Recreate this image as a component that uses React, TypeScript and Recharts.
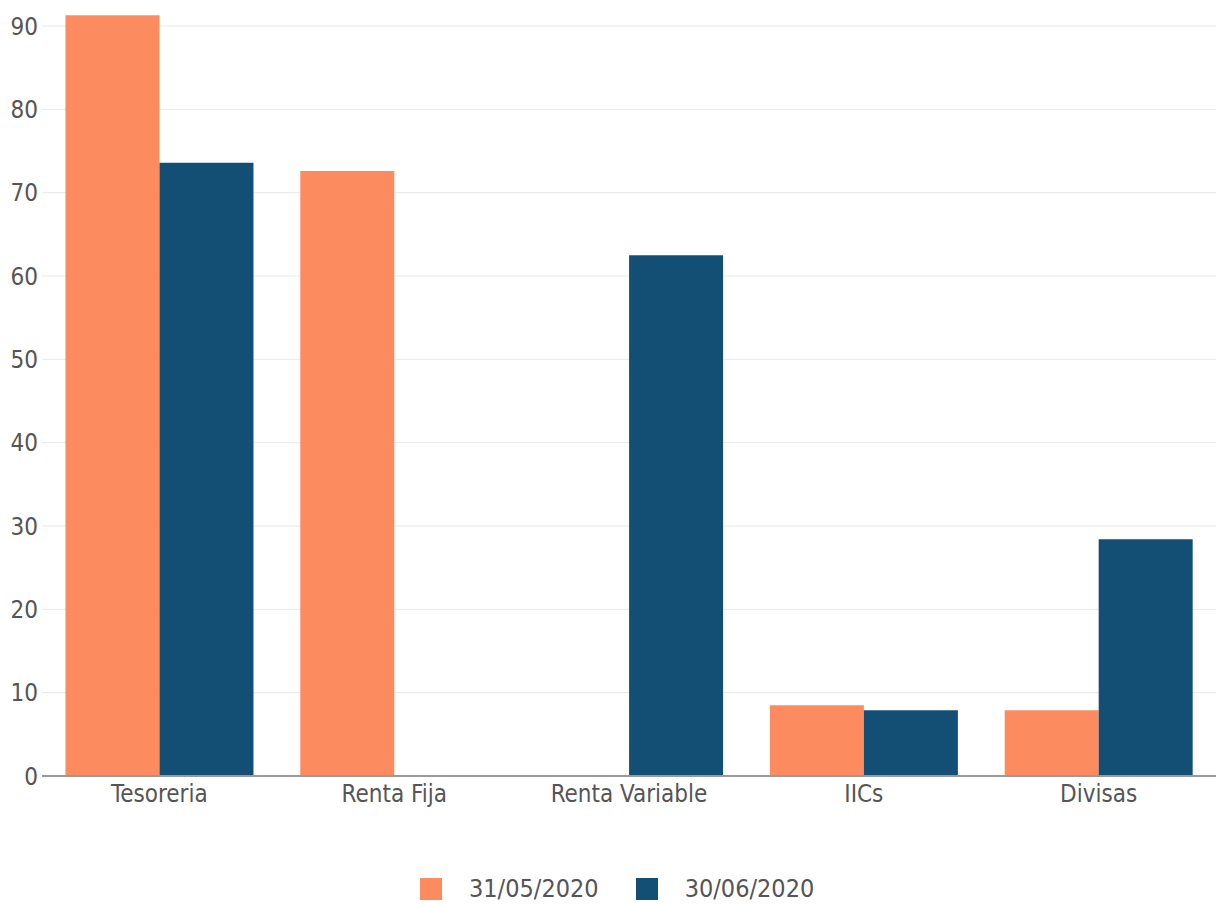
import { BarChart, Bar, XAxis, YAxis, CartesianGrid, Legend } from 'recharts'

const categories = ['Tesoreria', 'Renta Fija', 'Renta Variable', 'IICs', 'Divisas']
const may2020 = [91.3, 72.6, 0, 8.5, 7.9]
const jun2020 = [73.6, 0, 62.5, 7.9, 28.4]
const yTicks = [0, 10, 20, 30, 40, 50, 60, 70, 80, 90]
const yMax = 93

const seriesNames = ['31/05/2020', '30/06/2020']
const colors = ['#fc8b60', '#134f74']

const data = categories.map((name, i) => ({
  name,
  may: may2020[i],
  jun: jun2020[i],
}))

const font = '"DejaVu Sans Condensed", "DejaVu Sans", sans-serif'

function LegendContent() {
  return (
    <div style={{ display: 'flex', alignItems: 'center', marginTop: 52, marginLeft: 420, fontFamily: font, fontSize: 25, color: '#555' }}>
      {seriesNames.map((s, i) => (
        <div key={s} style={{ display: 'flex', alignItems: 'center', marginRight: i === 0 ? 37 : 0 }}>
          <span style={{ width: 22, height: 22, background: colors[i], display: 'inline-block', marginRight: 27 }} />
          <span style={{ lineHeight: '22px' }}>{s}</span>
        </div>
      ))}
    </div>
  )
}

// grid only at the tick values (no line along the top edge)
const gridRows = ({ offset }: any) =>
  yTicks.map((t) => offset.top + offset.height * (1 - t / yMax))

export default function App() {
  return (
    <div style={{ position: 'absolute', left: 0, top: 0, background: '#fff' }}>
      <BarChart
        width={1216}
        height={904}
        data={data}
        margin={{ top: 1, right: 0, left: 0, bottom: 0 }}
        barCategoryGap="10%"
        barGap={0}
      >
        <CartesianGrid vertical={false} stroke="#e8e8e8" horizontalCoordinatesGenerator={gridRows} />
        <XAxis
          dataKey="name"
          height={50}
          tickLine={false}
          tickSize={0}
          tickMargin={9}
          axisLine={{ stroke: '#9a9a9a', strokeWidth: 2 }}
          tick={{ fill: '#555', fontSize: 24, fontFamily: font }}
          interval={0}
        />
        <YAxis
          width={42}
          domain={[0, yMax]}
          ticks={yTicks}
          tickLine={false}
          tickSize={0}
          tickMargin={4}
          axisLine={false}
          tick={{ fill: '#555', fontSize: 24, fontFamily: font }}
        />
        <Legend verticalAlign="bottom" height={78} wrapperStyle={{ height: 78 }} content={<LegendContent />} />
        <Bar dataKey="may" name={seriesNames[0]} fill={colors[0]} isAnimationActive={false} />
        <Bar dataKey="jun" name={seriesNames[1]} fill={colors[1]} isAnimationActive={false} />
      </BarChart>
    </div>
  )
}
